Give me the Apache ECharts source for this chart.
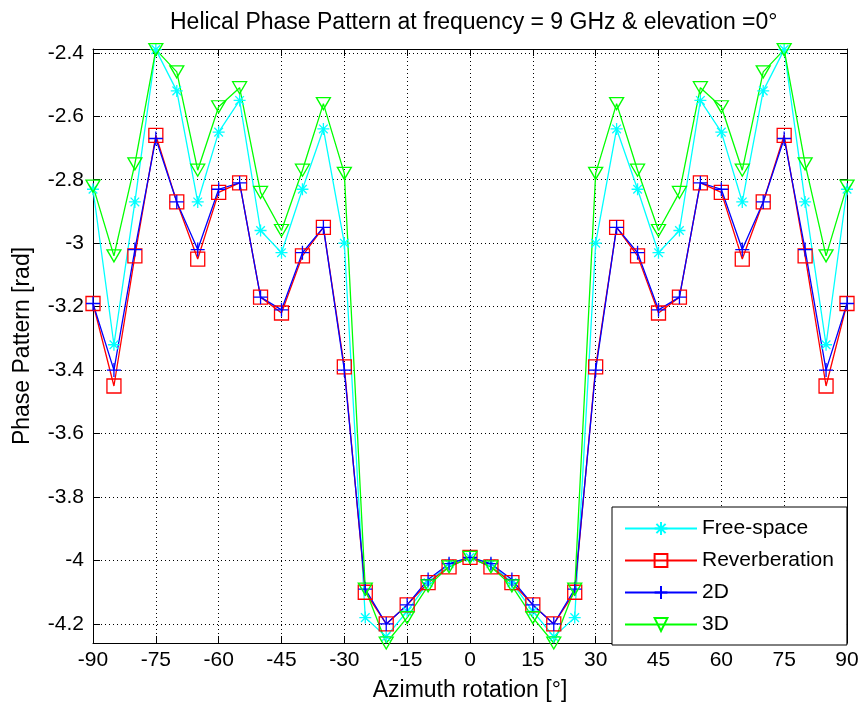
<!DOCTYPE html>
<html>
<head>
<meta charset="utf-8">
<script src="https://cdn.jsdelivr.net/npm/echarts@6/dist/echarts.min.js"></script>
<style>
  html, body { margin: 0; padding: 0; background: #fff; }
  #chart { width: 862px; height: 709px; }
</style>
</head>
<body>
<div id="chart"></div>
<script>
// Azimuth angles (degrees)
const azimuth = [-90,-85,-80,-75,-70,-65,-60,-55,-50,-45,-40,-35,-30,-25,-20,-15,-10,-5,0,5,10,15,20,25,30,35,40,45,50,55,60,65,70,75,80,85,90];

// Phase values [rad]
const freeSpace = [-2.83,-3.32,-2.87,-2.39,-2.52,-2.87,-2.65,-2.55,-2.96,-3.03,-2.83,-2.64,-3.00,-4.18,-4.24,-4.16,-4.07,-4.01,-3.99,-4.01,-4.07,-4.16,-4.24,-4.18,-3.00,-2.64,-2.83,-3.03,-2.96,-2.55,-2.65,-2.87,-2.52,-2.39,-2.87,-3.32,-2.83];
const reverberation = [-3.19,-3.45,-3.04,-2.66,-2.87,-3.05,-2.84,-2.81,-3.17,-3.22,-3.04,-2.95,-3.39,-4.10,-4.20,-4.14,-4.07,-4.02,-3.99,-4.02,-4.07,-4.14,-4.20,-4.10,-3.39,-2.95,-3.04,-3.22,-3.17,-2.81,-2.84,-3.05,-2.87,-2.66,-3.04,-3.45,-3.19];
const twoD = [-3.19,-3.40,-3.02,-2.67,-2.87,-3.02,-2.83,-2.81,-3.17,-3.21,-3.03,-2.95,-3.40,-4.09,-4.20,-4.14,-4.06,-4.01,-3.99,-4.01,-4.06,-4.14,-4.20,-4.09,-3.40,-2.95,-3.03,-3.21,-3.17,-2.81,-2.83,-3.02,-2.87,-2.67,-3.02,-3.40,-3.19];
const threeD = [-2.82,-3.04,-2.75,-2.39,-2.46,-2.77,-2.57,-2.51,-2.84,-2.96,-2.77,-2.56,-2.78,-4.09,-4.26,-4.18,-4.08,-4.02,-3.99,-4.02,-4.08,-4.18,-4.26,-4.09,-2.78,-2.56,-2.77,-2.96,-2.84,-2.51,-2.57,-2.77,-2.46,-2.39,-2.75,-3.04,-2.82];

// Axis ticks
const yTicks = [-4.2,-4.0,-3.8,-3.6,-3.4,-3.2,-3.0,-2.8,-2.6,-2.4];
const xMin = -90, xMax = 90, xStep = 15;
const yMin = -4.26, yMax = -2.388;

const seriesNames = ['Free-space','Reverberation','2D','3D'];

const FONT = 'Liberation Sans';
const black = '#000';

function pairs(vals) { return azimuth.map((a, i) => [a, vals[i]]); }

const gridLine = { show: true, lineStyle: { color: black, type: [1, 3], width: 1 } };

const option = {
  animation: false,
  backgroundColor: '#fff',
  textStyle: { fontFamily: FONT },
  title: {
    text: 'Helical Phase Pattern at frequency = 9 GHz & elevation =0°',
    left: 165, top: 6,
    textStyle: { fontFamily: FONT, fontSize: 23, fontWeight: 'normal', color: black }
  },
  grid: { left: 93, right: 15, top: 49, bottom: 66, containLabel: false },
  legend: {
    orient: 'vertical',
    left: 612, top: 507,
    data: seriesNames,
    itemWidth: 72, itemHeight: 16, itemGap: 11,
    padding: [11, 13, 10, 12],
    backgroundColor: '#fff',
    borderColor: black, borderWidth: 1, borderRadius: 0,
    textStyle: { fontFamily: FONT, fontSize: 21, color: black },
    z: 10
  },
  xAxis: [{
    type: 'value', min: xMin, max: xMax, interval: xStep,
    name: 'Azimuth rotation [°]', nameLocation: 'middle', nameGap: 36,
    nameTextStyle: { fontFamily: FONT, fontSize: 23, color: black },
    axisLine: { show: true, onZero: false, lineStyle: { color: black, width: 1 } },
    axisTick: { show: true, inside: true, length: 7, lineStyle: { color: black } },
    axisLabel: { fontFamily: FONT, fontSize: 21, color: black, margin: 7 },
    splitLine: gridLine
  }, {
    type: 'value', min: xMin, max: xMax, interval: xStep, position: 'top',
    axisLine: { show: true, onZero: false, lineStyle: { color: black, width: 1 } },
    axisTick: { show: true, inside: true, length: 7, lineStyle: { color: black } },
    axisLabel: { show: false }, splitLine: { show: false }
  }],
  yAxis: [{
    type: 'value', min: yMin, max: yMax,
    name: 'Phase Pattern [rad]', nameLocation: 'middle', nameGap: 59,
    nameTextStyle: { fontFamily: FONT, fontSize: 23, color: black },
    axisLine: { show: true, onZero: false, lineStyle: { color: black, width: 1 } },
    axisTick: { show: true, inside: true, length: 7, lineStyle: { color: black }, customValues: yTicks },
    axisLabel: { fontFamily: FONT, fontSize: 21, color: black, margin: 9, customValues: yTicks },
    splitLine: gridLine
  }, {
    type: 'value', min: yMin, max: yMax, position: 'right',
    axisLine: { show: true, onZero: false, lineStyle: { color: black, width: 1 } },
    axisTick: { show: true, inside: true, length: 7, lineStyle: { color: black }, customValues: yTicks },
    axisLabel: { show: false, customValues: yTicks }, splitLine: { show: false }
  }],
  series: [
    {
      name: 'Free-space', type: 'line', data: pairs(freeSpace),
      symbol: 'path://M0,-6L0,6M-6,0L6,0M-4.3,-4.3L4.3,4.3M-4.3,4.3L4.3,-4.3',
      symbolSize: 12, showAllSymbol: true,
      lineStyle: { color: '#00ffff', width: 1.3 },
      itemStyle: { color: 'none', borderColor: '#00ffff', borderWidth: 1.3 }
    },
    {
      name: 'Reverberation', type: 'line', data: pairs(reverberation),
      symbol: 'rect', symbolSize: 14, showAllSymbol: true,
      lineStyle: { color: '#ff0000', width: 1.3 },
      itemStyle: { color: 'none', borderColor: '#ff0000', borderWidth: 1.3 }
    },
    {
      name: '2D', type: 'line', data: pairs(twoD),
      symbol: 'path://M0,-7L0,7M-7,0L7,0', symbolSize: 14, showAllSymbol: true,
      lineStyle: { color: '#0000ff', width: 1.3 },
      itemStyle: { color: 'none', borderColor: '#0000ff', borderWidth: 1.3 }
    },
    {
      name: '3D', type: 'line', data: pairs(threeD),
      symbol: 'path://M0,0L10,0L5,9Z', symbolSize: [14, 12], showAllSymbol: true,
      lineStyle: { color: '#00ff00', width: 1.3 },
      itemStyle: { color: 'none', borderColor: '#00ff00', borderWidth: 1.3 }
    }
  ]
};

const chart = echarts.init(document.getElementById('chart'), null, { renderer: 'canvas' });
chart.setOption(option);
</script>
</body>
</html>
